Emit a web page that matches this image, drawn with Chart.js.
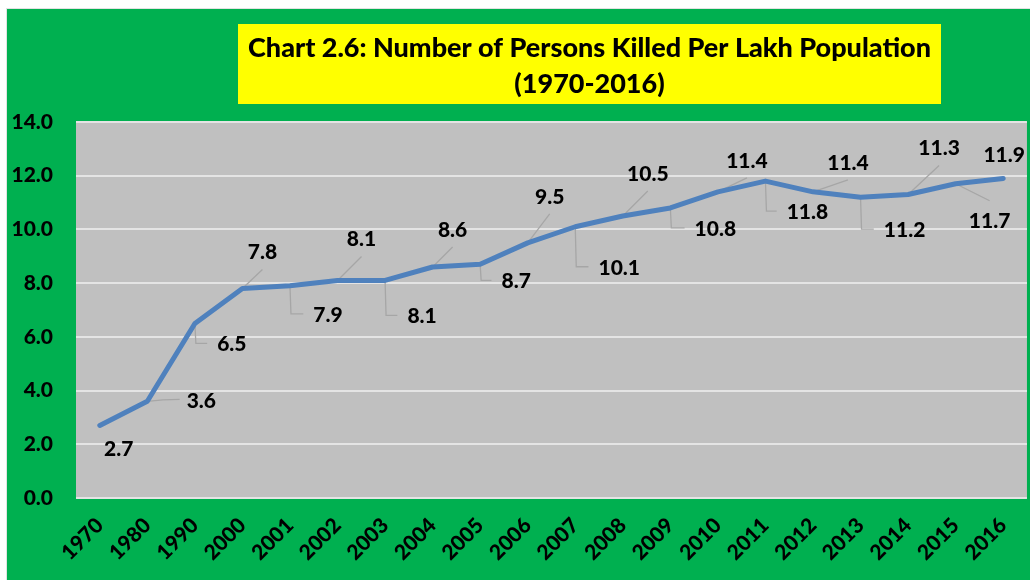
<!DOCTYPE html>
<html><head><meta charset="utf-8">
<script src="https://cdn.jsdelivr.net/npm/chart.js@4.4.0/dist/chart.umd.min.js"></script>
<style>
html,body{margin:0;padding:0;background:#fff;overflow:hidden;width:1030px;height:580px}
#wrap{position:absolute;left:0;top:0;width:1036px;height:580px}
canvas{display:block}
</style>
</head><body><div id="wrap"><canvas id="c" width="1036" height="580"></canvas></div>
<script>
// ---- data ----
const categories = ['1970','1980','1990','2000','2001','2002','2003','2004','2005','2006','2007','2008','2009','2010','2011','2012','2013','2014','2015','2016'];
const personsKilledPerLakh = [2.7,3.6,6.5,7.8,7.9,8.1,8.1,8.6,8.7,9.5,10.1,10.5,10.8,11.4,11.8,11.4,11.2,11.3,11.7,11.9];
const yMin = 0, yMax = 14, yStep = 2;
const titleLines = ['Chart 2.6: Number of Persons Killed Per Lakh Population','(1970-2016)'];

// ---- label placement (layout only): [dx, dy, leader style] ----
const labelPlacement = [
  [19,24,'none'],[54,0,'h'],[37,21,'elbow'],[20,-36,'diag'],[38,29,'elbow'],
  [24,-41,'diag'],[37,36,'elbow'],[20,-37,'diag'],[36,17,'elbow'],[22,-46,'diag'],
  [44,41,'elbow'],[25,-42,'diag'],[45,21,'elbow'],[29,-31,'diag'],[42,31,'elbow'],
  [35,-29,'diag'],[44,33,'elbow'],[31,-46,'diag'],[34,37,'diagDown'],[1,-23,'none']
];

const FONT = 'Lato, "Open Sans", sans-serif';
const GREEN = '#00b050', PLOT = '#c0c0c0', YELLOW = '#ffff00', LINE = '#4f81bd', LEADER = '#a6a6a6';

const backgroundPlugin = {
  id: 'bg',
  beforeDraw(chart) {
    const {ctx, chartArea: a, width, height} = chart;
    ctx.save();
    ctx.fillStyle = '#ffffff';
    ctx.fillRect(0, 0, width, height);
    ctx.fillStyle = '#e2e2e2';
    ctx.fillRect(6, 8, width, height);
    ctx.fillStyle = GREEN;
    ctx.fillRect(7, 9, width, height);
    ctx.fillStyle = PLOT;
    ctx.fillRect(a.left, a.top, a.right - a.left, a.bottom - a.top);
    ctx.restore();
  }
};

const titlePlugin = {
  id: 'yellowTitle',
  afterDraw(chart) {
    const ctx = chart.ctx;
    ctx.save();
    ctx.fillStyle = YELLOW;
    ctx.fillRect(238, 24, 703, 80);
    ctx.fillStyle = '#000';
    ctx.font = '900 27px ' + FONT;
    ctx.textAlign = 'center';
    ctx.textBaseline = 'alphabetic';
    ctx.fillText(titleLines[0], 589.5, 57);
    ctx.fillText(titleLines[1], 589.5, 93);
    ctx.restore();
  }
};

const labelFont = '900 21px ' + FONT;
const dataLabelPlugin = {
  id: 'dataLabels',
  beforeDatasetsDraw(chart) {
    const ctx = chart.ctx;
    const meta = chart.getDatasetMeta(0);
    const vals = chart.data.datasets[0].data;
    ctx.save();
    ctx.strokeStyle = LEADER;
    ctx.lineWidth = 1.3;
    ctx.font = labelFont;
    meta.data.forEach((pt, i) => {
      const [dx, dy, kind] = labelPlacement[i];
      const px = pt.x, py = pt.y, lx = px + dx, ly = py + dy;
      const w = ctx.measureText(vals[i].toFixed(1)).width;
      ctx.beginPath();
      if (kind === 'h') {
        ctx.moveTo(px, py);
        ctx.quadraticCurveTo(px + 15, py - 2, lx - w / 2 - 7, ly - 2);
      } else if (kind === 'elbow') {
        ctx.moveTo(px, py);
        ctx.lineTo(px + 1, ly - 1);
        ctx.lineTo(lx - w / 2 - 10, ly - 1);
      } else if (kind === 'diag') {
        ctx.moveTo(px, py);
        ctx.lineTo(lx, ly + 17);
      } else if (kind === 'diagDown') {
        ctx.moveTo(px, py);
        ctx.lineTo(lx, ly - 20);
      } else {
        return;
      }
      ctx.stroke();
    });
    ctx.restore();
  },
  afterDatasetsDraw(chart) {
    const ctx = chart.ctx;
    const meta = chart.getDatasetMeta(0);
    const vals = chart.data.datasets[0].data;
    ctx.save();
    ctx.fillStyle = '#000';
    ctx.font = labelFont;
    ctx.textAlign = 'center';
    ctx.textBaseline = 'middle';
    meta.data.forEach((pt, i) => {
      const [dx, dy] = labelPlacement[i];
      ctx.fillText(vals[i].toFixed(1), pt.x + dx, pt.y + dy);
    });
    ctx.restore();
  }
};

new Chart(document.getElementById('c'), {
  type: 'line',
  data: {
    labels: categories,
    datasets: [{
      data: personsKilledPerLakh,
      borderColor: LINE,
      borderWidth: 5,
      pointRadius: 0,
      pointHoverRadius: 0,
      tension: 0,
      fill: false,
      borderCapStyle: 'round',
      borderJoinStyle: 'round'
    }]
  },
  options: {
    responsive: false,
    animation: false,
    events: [],
    layout: { padding: { top: 122, left: 12, right: 0, bottom: 0 } },
    plugins: { legend: { display: false }, title: { display: false }, tooltip: { enabled: false } },
    scales: {
      x: {
        offset: true,
        grid: { display: false, drawTicks: false },
        border: { display: false },
        ticks: { autoSkip: false, minRotation: 45, maxRotation: 45, padding: 15, color: '#000',
                 font: { family: FONT, size: 21, weight: '900' } },
        afterFit(s) { s.height = 82; }
      },
      y: {
        min: yMin, max: yMax,
        grid: { color: '#e4e4e4', lineWidth: 2, drawTicks: false },
        border: { display: false },
        ticks: { stepSize: yStep, padding: 23, color: '#000',
                 font: { family: FONT, size: 21, weight: '900' },
                 callback: v => Number(v).toFixed(1) },
        afterFit(s) { s.width = 64; }
      }
    }
  },
  plugins: [backgroundPlugin, dataLabelPlugin, titlePlugin]
});
</script>
</body></html>
